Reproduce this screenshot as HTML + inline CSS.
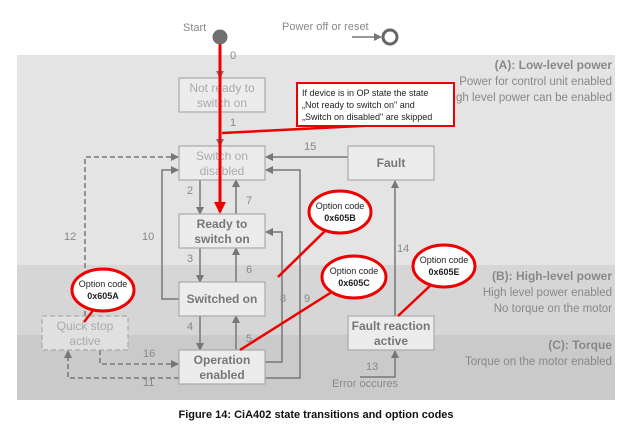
<!DOCTYPE html>
<html><head><meta charset="utf-8"><style>
html,body{margin:0;padding:0;background:#fff;width:633px;height:434px;overflow:hidden}
svg text{font-family:"Liberation Sans",sans-serif}
</style></head><body>
<svg width="633" height="434" viewBox="0 0 633 434" xmlns="http://www.w3.org/2000/svg">
<defs>
<marker id="a" markerWidth="8" markerHeight="8" refX="7" refY="4" orient="auto" markerUnits="userSpaceOnUse"><path d="M0,0 L8,4 L0,8 z" fill="#777"/></marker>
<marker id="r" markerWidth="12" markerHeight="12" refX="10" refY="6" orient="auto" markerUnits="userSpaceOnUse"><path d="M0,0 L12,6 L0,12 z" fill="#e00"/></marker>
</defs>
<rect x="17" y="55" width="598" height="210" fill="#e4e4e4"/>
<rect x="17" y="265" width="598" height="70" fill="#d6d6d6"/>
<rect x="17" y="335" width="598" height="65" fill="#cacaca"/>
<g font-size="11.5" fill="#888" text-anchor="end">
<text x="612" y="69" font-weight="bold" font-size="12">(A): Low-level power</text>
<text x="612" y="85">Power for control unit enabled</text>
<text x="612" y="101">High level power can be enabled</text>
<text x="612" y="280" font-weight="bold" font-size="12">(B): High-level power</text>
<text x="612" y="296">High level power enabled</text>
<text x="612" y="312">No torque on the motor</text>
<text x="612" y="349" font-weight="bold" font-size="12">(C): Torque</text>
<text x="612" y="365">Torque on the motor enabled</text>
</g>
<text x="183" y="31" font-size="11" fill="#888">Start</text>
<text x="282" y="30" font-size="11" fill="#888">Power off or reset</text>
<line x1="352" y1="37" x2="381" y2="37" stroke="#777" stroke-width="1.5" marker-end="url(#a)"/>
<circle cx="390" cy="37" r="7" fill="none" stroke="#666" stroke-width="3"/>
<g stroke="#777" stroke-width="1.5" fill="none">
<line x1="220" y1="44" x2="220" y2="78" marker-end="url(#a)"/>
<line x1="220" y1="112" x2="220" y2="146" marker-end="url(#a)"/>
<line x1="348" y1="157" x2="266" y2="157" marker-end="url(#a)"/>
<line x1="200" y1="180" x2="200" y2="214" marker-end="url(#a)"/>
<line x1="236" y1="214" x2="236" y2="180" marker-end="url(#a)"/>
<polyline points="179,299 162,299 162,170 178,170" marker-end="url(#a)"/>
<polyline points="265,362 282,362 282,232 266,232" marker-end="url(#a)"/>
<polyline points="265,378 300,378 300,170 266,170" marker-end="url(#a)"/>
<line x1="200" y1="248" x2="200" y2="282" marker-end="url(#a)"/>
<line x1="236" y1="282" x2="236" y2="248" marker-end="url(#a)"/>
<line x1="200" y1="316" x2="200" y2="350" marker-end="url(#a)"/>
<line x1="236" y1="350" x2="236" y2="316" marker-end="url(#a)"/>
<line x1="395" y1="316" x2="395" y2="181" marker-end="url(#a)"/>
<polyline points="360,377 395,377 395,351" marker-end="url(#a)"/>
<g stroke-dasharray="5,3">
<polyline points="85,316 85,157 178,157" marker-end="url(#a)"/>
<polyline points="100,350 100,364 178,364" marker-end="url(#a)"/>
<polyline points="179,378 68,378 68,351" marker-end="url(#a)"/>
</g>
</g>
<g stroke="#aaa" stroke-width="1.2" fill="#ececec">
<rect x="179" y="78" width="86" height="34" />
<rect x="179" y="146" width="86" height="34"/>
<rect x="179" y="214" width="86" height="34"/>
<rect x="179" y="282" width="86" height="34"/>
<rect x="179" y="350" width="86" height="34"/>
<rect x="348" y="146" width="86" height="34"/>
<rect x="348" y="316" width="86" height="34"/>
<rect x="42" y="316" width="86" height="34" stroke-dasharray="5,3" fill="#e0e0e0"/>
</g>
<g font-size="12" fill="#aaa" text-anchor="middle">
<text x="222" y="92">Not ready to</text><text x="222" y="107">switch on</text>
<text x="222" y="160">Switch on</text><text x="222" y="175">disabled</text>
<text x="85" y="330">Quick stop</text><text x="85" y="345">active</text>
</g>
<g font-size="12" fill="#777" text-anchor="middle" font-weight="bold">
<text x="222" y="228">Ready to</text><text x="222" y="243">switch on</text>
<text x="222" y="303">Switched on</text>
<text x="222" y="364">Operation</text><text x="222" y="379">enabled</text>
<text x="391" y="167">Fault</text>
<text x="391" y="330">Fault reaction</text><text x="391" y="345">active</text>
</g>
<g font-size="11" fill="#888">
<text x="230" y="59">0</text><text x="230" y="126">1</text><text x="304" y="150">15</text>
<text x="187" y="194">2</text><text x="246" y="204">7</text><text x="142" y="240">10</text>
<text x="64" y="240">12</text><text x="187" y="262">3</text><text x="246" y="273">6</text>
<text x="280" y="302">8</text><text x="304" y="302">9</text><text x="397" y="252">14</text>
<text x="187" y="330">4</text><text x="246" y="342">5</text><text x="143" y="357">16</text>
<text x="143" y="386">11</text><text x="366" y="370">13</text>
<text x="332" y="387">Error occures</text>
</g>
<line x1="220" y1="38" x2="220" y2="212" stroke="#e00" stroke-width="3" marker-end="url(#r)"/>
<circle cx="220" cy="37" r="7.5" fill="#707070"/>
<line x1="380" y1="125" x2="222" y2="133" stroke="#e00" stroke-width="2.5"/>
<rect x="297" y="83" width="157" height="43" fill="#fff" stroke="#e00" stroke-width="2"/>
<g font-size="9" fill="#222">
<text x="302" y="96">If device is in OP state the state</text>
<text x="302" y="108">„Not ready to switch on" and</text>
<text x="302" y="120">„Switch on disabled" are skipped</text>
</g>
<g stroke="#e00" stroke-width="2.5">
<line x1="328" y1="228" x2="278" y2="277"/>
<line x1="95" y1="308" x2="84" y2="322"/>
<line x1="335" y1="290" x2="240" y2="350"/>
<line x1="432" y1="284" x2="398" y2="316"/>
</g>
<g fill="#fff" stroke="#e00" stroke-width="3">
<ellipse cx="340" cy="212" rx="31" ry="21"/>
<ellipse cx="103" cy="290" rx="31" ry="21"/>
<ellipse cx="354" cy="277" rx="32" ry="21"/>
<ellipse cx="444" cy="266" rx="31" ry="21"/>
</g>
<g font-size="9" fill="#222" text-anchor="middle">
<text x="340" y="209">Option code</text><text x="340" y="221" font-weight="bold">0x605B</text>
<text x="103" y="287">Option code</text><text x="103" y="299" font-weight="bold">0x605A</text>
<text x="354" y="274">Option code</text><text x="354" y="286" font-weight="bold">0x605C</text>
<text x="444" y="263">Option code</text><text x="444" y="275" font-weight="bold">0x605E</text>
</g>
<text x="316" y="418" font-size="11" font-weight="bold" fill="#111" text-anchor="middle">Figure 14: CiA402 state transitions and option codes</text>
</svg>
</body></html>
